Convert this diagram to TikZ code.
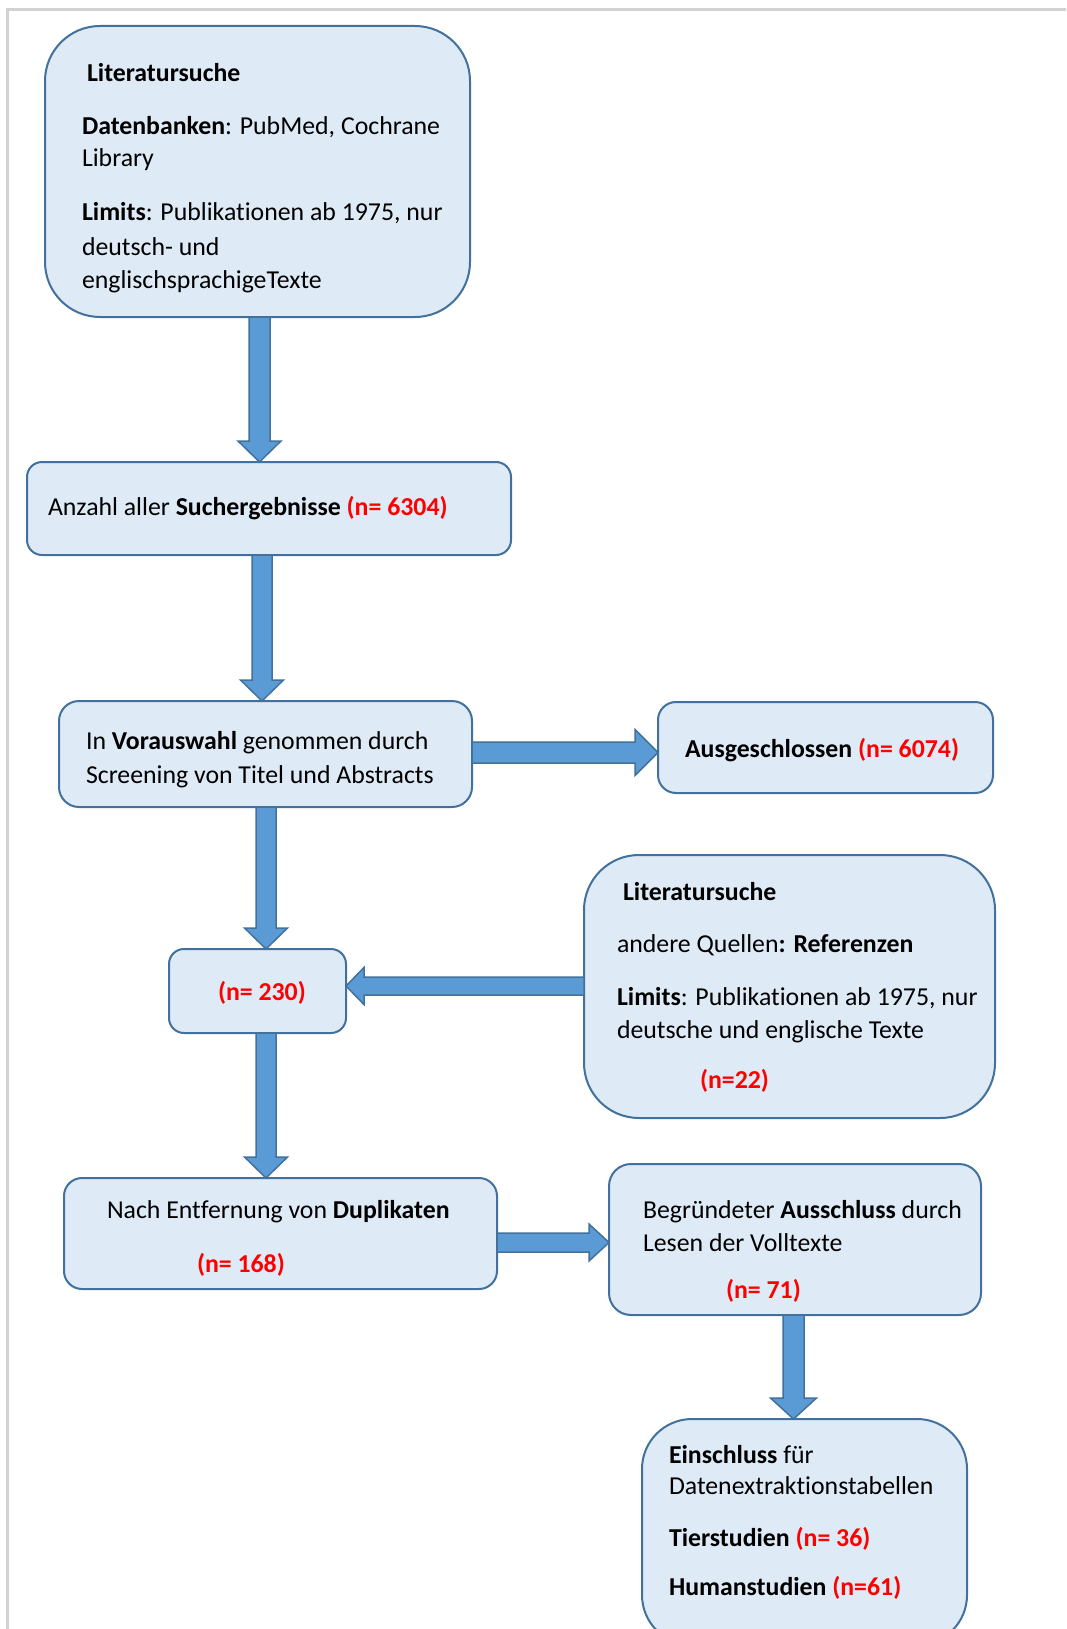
\documentclass[tikz,border=0pt]{standalone}
\usepackage{fontspec}
\setmainfont{Carlito}[Ligatures={NoCommon}]
\usetikzlibrary{calc}
\definecolor{boxfill}{HTML}{DEEAF6}
\definecolor{boxline}{HTML}{41719C}
\definecolor{arrfill}{HTML}{5B9BD5}
\definecolor{pagegray}{HTML}{D2D2D2}
\definecolor{nred}{HTML}{FF0000}
\newcommand\nr[1]{\textcolor{nred}{\textbf{#1}}}
% vertical block arrow: #1 from, #2 to, #3 x, #4 half shaft, #5 half head, #6 head length
\newcommand\blkdown[6]{%
  \path[blockarrow] let \p1=(#1), \p2=(#2) in
    ({#3pt-#4pt},\y1) -- ({#3pt+#4pt},\y1) -- ({#3pt+#4pt},{\y2+#6pt}) -- ({#3pt+#5pt},{\y2+#6pt})
    -- (#3pt,\y2) -- ({#3pt-#5pt},{\y2+#6pt}) -- ({#3pt-#4pt},{\y2+#6pt}) -- cycle;}
% horizontal block arrow to the right: #3 y (downward px)
\newcommand\blkright[6]{%
  \path[blockarrow] let \p1=(#1), \p2=(#2) in
    (\x1,{-#3pt+#4pt}) -- ({\x2-#6pt},{-#3pt+#4pt}) -- ({\x2-#6pt},{-#3pt+#5pt})
    -- (\x2,{-#3pt}) -- ({\x2-#6pt},{-#3pt-#5pt}) -- ({\x2-#6pt},{-#3pt-#4pt}) -- (\x1,{-#3pt-#4pt}) -- cycle;}
\newcommand\blkleft[6]{%
  \path[blockarrow] let \p1=(#1), \p2=(#2) in
    (\x1,{-#3pt+#4pt}) -- ({\x2+#6pt},{-#3pt+#4pt}) -- ({\x2+#6pt},{-#3pt+#5pt})
    -- (\x2,{-#3pt}) -- ({\x2+#6pt},{-#3pt-#5pt}) -- ({\x2+#6pt},{-#3pt-#4pt}) -- (\x1,{-#3pt-#4pt}) -- cycle;}
\begin{document}
\begin{tikzpicture}[x=1pt,y=-1pt,
  box/.style={draw=boxline, fill=boxfill, line width=2pt, inner sep=0pt, outer sep=0pt, rectangle},
  blockarrow/.style={draw=boxline, fill=arrfill, line width=1.5pt, line join=miter},
  txt/.style={anchor=base west, inner sep=0pt, outer sep=0pt, font=\fontsize{25.8}{31}\selectfont}]
\useasboundingbox (0,0) rectangle (1066,1629);
\clip (0,0) rectangle (1066,1629);
\fill[white] (0,0) rectangle (1066,1629);
\draw[pagegray, line width=3pt] (7.5,1640) -- (7.5,9.5) -- (1070,9.5);

% boxes
\node[box, minimum width=425pt, minimum height=291pt, rounded corners=55pt] (b1) at (257.5,171.5) {};
\node[box, minimum width=484pt, minimum height=93pt, rounded corners=15pt] (b2) at (269,508.5) {};
\node[box, minimum width=413pt, minimum height=106pt, rounded corners=20pt] (b3) at (265.5,754) {};
\node[box, minimum width=335pt, minimum height=91pt, rounded corners=18pt] (b4) at (825.5,747.5) {};
\node[box, minimum width=177pt, minimum height=84pt, rounded corners=15pt] (b5) at (257.5,991) {};
\node[box, minimum width=411pt, minimum height=263pt, rounded corners=55pt] (b6) at (789.5,986.5) {};
\node[box, minimum width=433pt, minimum height=111pt, rounded corners=18pt] (b7) at (280.5,1233.5) {};
\node[box, minimum width=372pt, minimum height=151pt, rounded corners=22pt] (b8) at (795,1239.5) {};
\node[box, minimum width=325pt, minimum height=226pt, rounded corners=50pt] (b9) at (804.5,1532) {};

% arrows
\blkdown{b1.south}{b2.north}{259.5}{10.5}{21.5}{21}
\blkdown{b2.south}{b3.north}{262}{10}{21.5}{21}
\blkdown{b3.south}{b5.north}{266}{10}{21.5}{21}
\blkdown{b5.south}{b7.north}{266}{10}{21.5}{21}
\blkdown{b8.south}{b9.north}{793.5}{10.5}{23}{21}
\blkright{b3.east}{b4.west}{752.5}{10.5}{23}{23}
\blkleft{b6.west}{b5.east}{986}{9}{18.5}{18}
\blkright{b7.east}{b8.west}{1242.5}{9.5}{18.5}{20}

% texts
\node[txt] (t1a) at (87,82) {\textbf{Literatursuche}};
\node[txt] (t1b) at (82,135) {\textbf{Datenbanken}: PubMed, Cochrane};
\node[txt] (t1c) at (82,167) {Library};
\node[txt] (t1d) at (82,221) {\textbf{Limits}: Publikationen ab 1975, nur};
\node[txt] (t1e) at (82,255) {deutsch- und};
\node[txt] (t1f) at (82,288) {englischsprachigeTexte};

\node[txt] (t2a) at (48,515) {Anzahl aller \textbf{Suchergebnisse} \nr{(n= 6304)}};

\node[txt] (t3a) at (86,749) {In \textbf{Vorauswahl} genommen durch};
\node[txt] (t3b) at (86,783) {Screening von Titel und Abstracts};

\node[txt] (t4a) at (685,757) {\textbf{Ausgeschlossen} \nr{(n= 6074)}};

\node[txt] (t5a) at (218,1000) {\nr{(n= 230)}};

\node[txt] (t6a) at (623,900) {\textbf{Literatursuche}};
\node[txt] (t6b) at (617,952) {andere Quellen\textbf{: Referenzen}};
\node[txt] (t6c) at (617,1005) {\textbf{Limits}: Publikationen ab 1975, nur};
\node[txt] (t6d) at (617,1038) {deutsche und englische Texte};
\node[txt] (t6e) at (700,1088) {\nr{(n=22)}};

\node[txt] (t7a) at (107,1218) {Nach Entfernung von \textbf{Duplikaten}};
\node[txt] (t7b) at (197,1272) {\nr{(n= 168)}};

\node[txt] (t8a) at (643,1218) {Begründeter \textbf{Ausschluss} durch};
\node[txt] (t8b) at (643,1251) {Lesen der Volltexte};
\node[txt] (t8c) at (726,1298) {\nr{(n= 71)}};

\node[txt] (t9a) at (669,1463) {\textbf{Einschluss} für};
\node[txt] (t9b) at (669,1494) {Datenextraktionstabellen};
\node[txt] (t9c) at (669,1546) {\textbf{Tierstudien} \nr{(n= 36)}};
\node[txt] (t9d) at (669,1595) {\textbf{Humanstudien} \nr{(n=61)}};
\end{tikzpicture}
\end{document}
